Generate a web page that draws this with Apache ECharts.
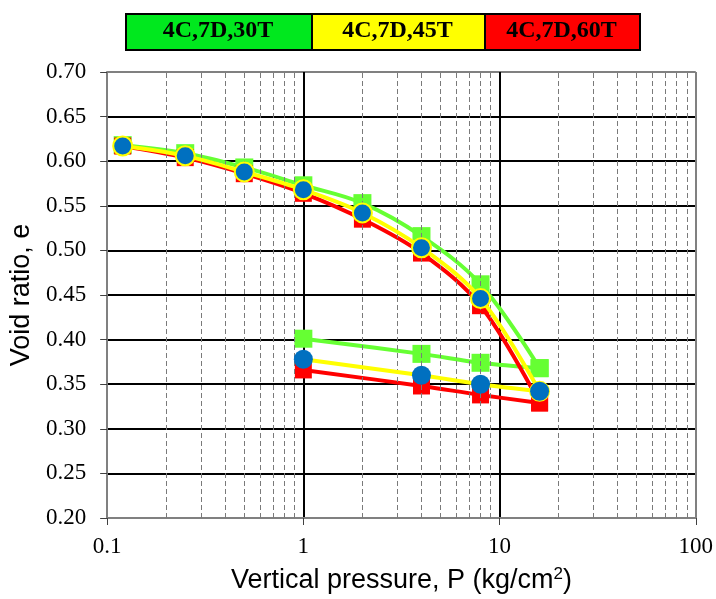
<!DOCTYPE html>
<html><head><meta charset="utf-8">
<script src="https://cdn.jsdelivr.net/npm/echarts@6/dist/echarts.min.js"></script>
<style>html,body{margin:0;padding:0;background:#fff}#c{width:716px;height:599px}</style>
</head><body><div id="c"></div>
<script>
const loadP = [0.12, 0.25, 0.5, 1, 2, 4, 8, 16];
const unloadP = [16, 8, 4, 1];
const e30Load = [0.618, 0.609, 0.593, 0.573, 0.553, 0.516, 0.462, 0.368];
const e30Unload = [0.368, 0.374, 0.384, 0.401];
const e45Load = [0.617, 0.606, 0.588, 0.568, 0.542, 0.503, 0.446, 0.342];
const e45Unload = [0.342, 0.350, 0.360, 0.378];
const e60Load = [0.617, 0.604, 0.586, 0.564, 0.535, 0.497, 0.438, 0.329];
const e60Unload = [0.329, 0.338, 0.348, 0.366];
const seriesNames = ['4C,7D,30T', '4C,7D,45T', '4C,7D,60T'];
const xTickLabels = ['0.1', '1', '10', '100'];
const minorX = [0.2, 0.3, 0.4, 0.5, 0.6, 0.7, 0.8, 0.9, 2, 3, 4, 5, 6, 7, 8, 9, 20, 30, 40, 50, 60, 70, 80, 90];

const pairs = (xs, ys) => xs.map((x, i) => [x, ys[i]]);
const GREEN = '#66FF33', YELLOW = '#FFFF00', RED = '#FF0000', BLUE = '#0070C0';

const chart = echarts.init(document.getElementById('c'));
const lineBase = { type: 'line', smooth: 0.35, z: 3, animation: false };

const series = [
  Object.assign({}, lineBase, {
    name: seriesNames[0], data: pairs(loadP, e30Load), symbol: 'rect', symbolSize: 18,
    lineStyle: { color: GREEN, width: 4 }, itemStyle: { color: GREEN }, z: 3,
    markLine: {
      silent: true, symbol: 'none', animation: false, label: { show: false },
      lineStyle: { color: '#7a7a7a', width: 1, type: [5, 3] },
      data: minorX.map(v => ({ xAxis: v }))
    }
  }),
  Object.assign({}, lineBase, {
    name: seriesNames[0] + ' unloading', data: pairs(unloadP, e30Unload), symbol: 'rect', symbolSize: 18,
    lineStyle: { color: GREEN, width: 4 }, itemStyle: { color: GREEN }, z: 3
  }),
  Object.assign({}, lineBase, {
    name: seriesNames[2], data: pairs(loadP, e60Load), symbol: 'rect', symbolSize: 17,
    lineStyle: { color: RED, width: 4 }, itemStyle: { color: RED }, z: 4
  }),
  Object.assign({}, lineBase, {
    name: seriesNames[2] + ' unloading', data: pairs(unloadP, e60Unload), symbol: 'rect', symbolSize: 17,
    lineStyle: { color: RED, width: 4 }, itemStyle: { color: RED }, z: 4
  }),
  Object.assign({}, lineBase, {
    name: seriesNames[1], data: pairs(loadP, e45Load), symbol: 'circle', symbolSize: 19,
    lineStyle: { color: YELLOW, width: 4 }, itemStyle: { color: BLUE, borderColor: YELLOW, borderWidth: 2 }, z: 5
  }),
  Object.assign({}, lineBase, {
    name: seriesNames[1] + ' unloading', data: pairs(unloadP, e45Unload), symbol: 'circle', symbolSize: 19,
    lineStyle: { color: YELLOW, width: 4 }, itemStyle: { color: BLUE }, z: 5
  })
];

const legendBoxes = [
  { x: 125, w: 186, fill: '#00E81E', text: seriesNames[0] },
  { x: 311, w: 173, fill: '#FFFF00', text: seriesNames[1] },
  { x: 484, w: 155, fill: '#FF0000', text: seriesNames[2] }
];
const graphic = [];
legendBoxes.forEach(b => {
  graphic.push({ type: 'rect', left: b.x, top: 13, shape: { width: b.w, height: 36 },
    style: { fill: b.fill, stroke: '#000', lineWidth: 2 }, z: 10 });
  graphic.push({ type: 'text', x: b.x + b.w / 2, y: 31,
    style: { text: b.text, fill: '#000', font: 'bold 24px "Liberation Serif", serif', textAlign: 'center', textVerticalAlign: 'middle' }, z: 11 });
});

const ySplitColors = ['#808080', '#000', '#000', '#000', '#000', '#000', '#000', '#000', '#000', '#000', '#808080'];

chart.setOption({
  animation: false,
  backgroundColor: '#fff',
  grid: { left: 106, right: 19, top: 72, bottom: 74, containLabel: false },
  graphic: graphic,
  xAxis: {
    type: 'log', logBase: 10, min: 0.1, max: 100,
    axisLine: { show: true, onZero: false, lineStyle: { color: '#808080', width: 2 } },
    axisTick: { show: true, inside: false, length: 7, lineStyle: { color: '#404040', width: 1 } },
    axisLabel: {
      fontFamily: '"Liberation Serif", serif', fontSize: 23, color: '#000', margin: 17,
      formatter: function (v) { const idx = Math.round(Math.log10(v) + 1); return xTickLabels[idx] !== undefined ? xTickLabels[idx] : ''; }
    },
    splitLine: { show: true, lineStyle: { color: ['#808080', '#000', '#000', '#808080'], width: 2 } },
    name: 'Vertical pressure, P (kg/cm{sup|2})',
    nameLocation: 'middle', nameGap: 48,
    nameTextStyle: {
      fontFamily: '"Liberation Sans", Arial, sans-serif', fontSize: 27, color: '#000',
      rich: { sup: { fontFamily: '"Liberation Sans", Arial, sans-serif', fontSize: 17, color: '#000', verticalAlign: 'top', padding: [0, 0, 12, 0] } }
    }
  },
  yAxis: {
    type: 'value', min: 0.2, max: 0.7, interval: 0.05,
    axisLine: { show: true, onZero: false, lineStyle: { color: '#808080', width: 2 } },
    axisTick: { show: true, inside: false, length: 7, lineStyle: { color: '#404040', width: 1 } },
    axisLabel: {
      fontFamily: '"Liberation Serif", serif', fontSize: 23, color: '#000', margin: 21,
      formatter: v => v.toFixed(2)
    },
    splitLine: { show: true, lineStyle: { color: ySplitColors, width: 2 } },
    name: 'Void ratio, e', nameLocation: 'middle', nameGap: 67,
    nameTextStyle: { fontFamily: '"Liberation Sans", Arial, sans-serif', fontSize: 27, color: '#000' }
  },
  series: series
});
</script>
</body></html>
